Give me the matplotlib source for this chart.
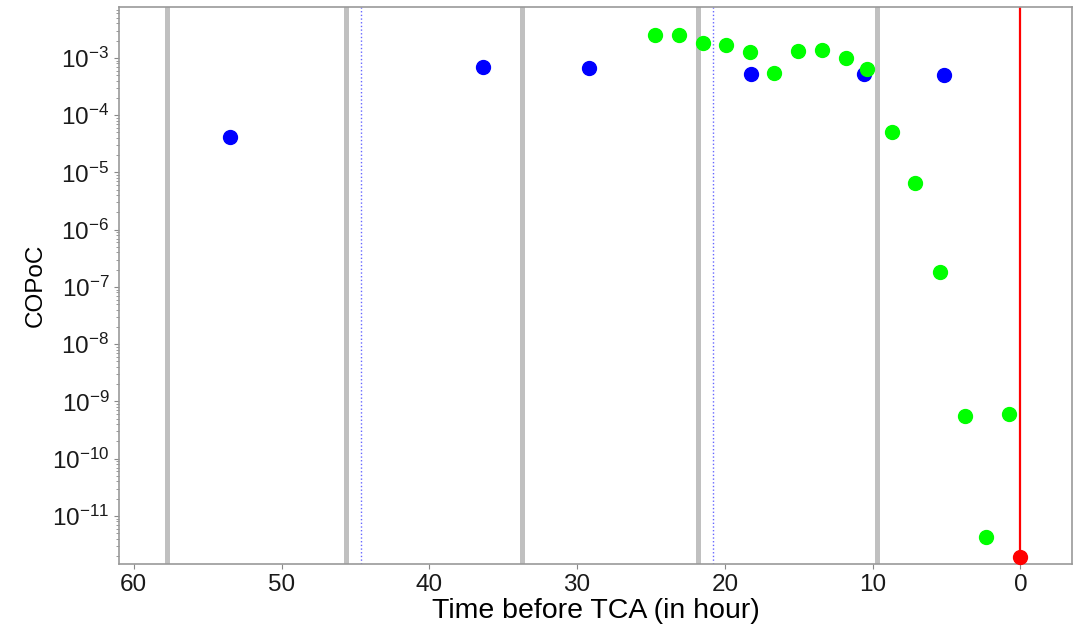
import matplotlib
matplotlib.use("Agg")
import matplotlib.pyplot as plt

plt.rcParams['font.family'] = ['Liberation Sans', 'DejaVu Sans']

# Blue series (time before TCA in hours, COPoC)
blue_t = [53.5, 36.4, 29.2, 18.2, 10.6, 5.2]
blue_p = [4.2e-5, 7.0e-4, 6.7e-4, 5.2e-4, 5.2e-4, 5.0e-4]

# Green series
green_t = [24.75, 23.1, 21.5, 19.9, 18.27, 16.67, 15.04, 13.44, 11.77, 10.37,
           8.66, 7.12, 5.45, 3.76, 2.34, 0.74]
green_p = [2.55e-3, 2.55e-3, 1.81e-3, 1.69e-3, 1.27e-3, 5.4e-4, 1.32e-3, 1.36e-3,
           1.01e-3, 6.5e-4, 5.1e-5, 6.6e-6, 1.83e-7, 5.5e-10, 4.2e-12, 6.1e-10]

# TCA point
tca_t = [0.0]
tca_p = [1.9e-12]

# Vertical reference lines
gray_lines = [57.77, 45.65, 33.73, 21.79, 9.72]
blue_dotted = [44.63, 20.82]

x_ticks = [60, 50, 40, 30, 20, 10, 0]

fig = plt.figure(figsize=(10.83, 6.3), dpi=100)
ax = fig.add_axes([0.1099, 0.1048, 0.88, 0.8842])

for g in gray_lines:
    ax.axvline(g, color='#c0c0c0', linewidth=3.6, zorder=1)
for b in blue_dotted:
    ax.axvline(b, color='blue', linestyle=':', linewidth=1.0, alpha=0.6, zorder=1)
ax.axvline(0, color='red', linewidth=1.6, zorder=2)

ax.plot(blue_t, blue_p, 'o', color='blue', markersize=10, zorder=3)
ax.plot(green_t, green_p, 'o', color='#00ff00', markersize=10, zorder=4)
ax.plot(tca_t, tca_p, 'o', color='red', markersize=10, zorder=5, clip_on=False)

ax.set_yscale('log')
ax.set_xlim(61.0, -3.5)
ax.set_ylim(10**-11.84, 10**-2.11)
ax.set_xticks(x_ticks)
ax.set_yticks([10.0**e for e in range(-11, -2)])

ax.tick_params(axis='both', labelsize=17.5, colors='#1a1a1a')
ax.tick_params(which='both', color='#888888')
for s in ax.spines.values():
    s.set_color('#999999')
    s.set_linewidth(1.2)

ax.set_xlabel('Time before TCA (in hour)', fontsize=20.5, labelpad=2)
ax.set_ylabel('COPoC', fontsize=17.5, labelpad=4)

fig.savefig('out.png', dpi=100)
